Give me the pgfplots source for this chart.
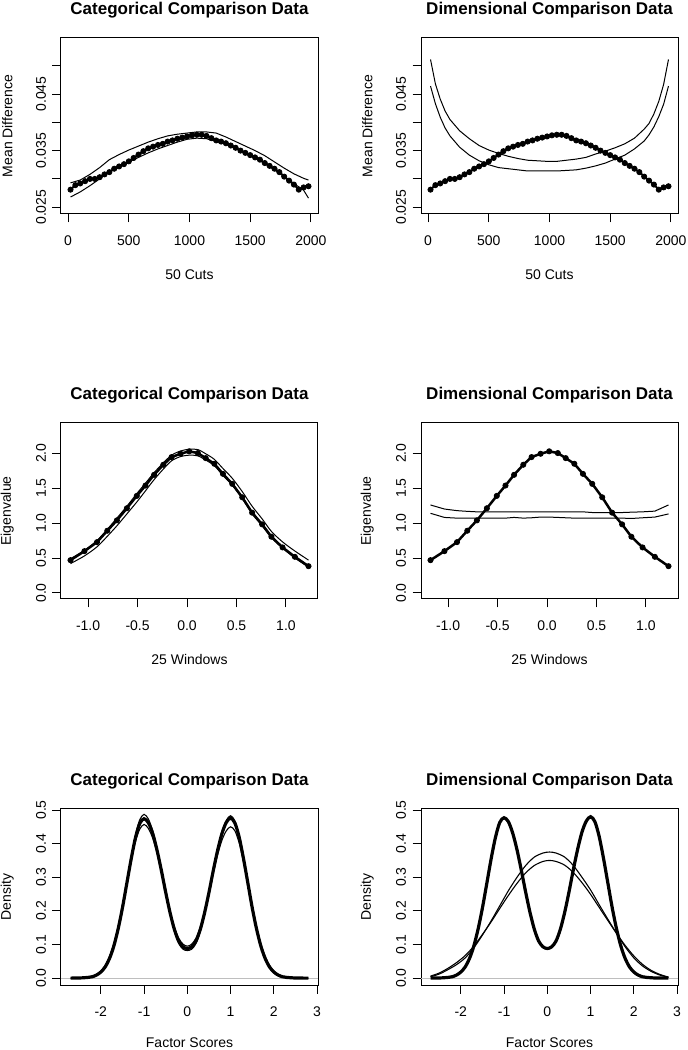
\documentclass[border=0pt]{standalone}
\usepackage{fontspec}
\setmainfont{Liberation Sans}
\setsansfont{Liberation Sans}
\usepackage{pgfplots}
\pgfplotsset{compat=1.18}
\definecolor{rgray}{RGB}{190,190,190}

\pgfplotsset{
  rplot/.style={
    scale only axis, width=257pt, height=176pt, anchor=south west,
    axis line style={line width=1pt},
    tick align=outside, major tick length=8.5pt,
    xtick pos=bottom, ytick pos=left,
    every tick/.style={black, line width=1pt},
    tick label style={font=\fontsize{14}{16}\selectfont},
    yticklabel style={rotate=90, anchor=south},
    xticklabel shift=10pt, yticklabel shift=3pt,
    scaled ticks=false,
    title style={font=\bfseries\fontsize{17}{20}\selectfont, at={(axis description cs:0.5,1.168)}, anchor=center, yshift=-8pt},
    xlabel style={font=\fontsize{14}{16}\selectfont, at={(axis description cs:0.5,-0.344)}, anchor=center},
    ylabel style={font=\fontsize{14}{16}\selectfont, at={(axis description cs:-0.209,0.5)}, anchor=center},
  },
  row1/.style={rplot, xmin=-58.4, xmax=2058.4, ymin=0.0238, ymax=0.0549,
    xtick={0,500,1000,1500,2000}, xticklabels={0,500,1000,1500,2000},
    ytick={0.025,0.03,0.035,0.04,0.045,0.05}, yticklabels={0.025,{},0.035,{},0.045,{}},
    xlabel={50 Cuts}, ylabel={Mean Difference}},
  row2/.style={rplot, xmin=-1.274, xmax=1.324, ymin=-0.086, ymax=2.43,
    xtick={-1,-0.5,0,0.5,1}, xticklabels={-1.0,-0.5,0.0,0.5,1.0},
    ytick={0,0.5,1,1.5,2}, yticklabels={0.0,0.5,1.0,1.5,2.0},
    xlabel={25 Windows}, ylabel={Eigenvalue}},
  row3/.style={rplot, xmin=-2.92, xmax=3.02, ymin=-0.0205, ymax=0.503,
    xtick={-2,-1,0,1,2,3}, xticklabels={-2,-1,0,1,2,3},
    ytick={0,0.1,0.2,0.3,0.4,0.5}, yticklabels={0.0,0.1,0.2,0.3,0.4,0.5},
    xlabel={Factor Scores}, ylabel={Density},
    xlabel style={at={(axis description cs:0.5,-0.33)}}},
  datastyle/.style={black, line width=2pt, mark=*, mark size=2.6pt, mark options={solid, line width=0.8pt}},
  bandstyle/.style={black, line width=1pt, no marks},
  thickden/.style={black, line width=3.2pt, no marks, smooth},
  thinden/.style={black, line width=1.1pt, no marks, smooth},
}

\begin{document}
\begin{tikzpicture}
\path[use as bounding box] (0pt,0pt) rectangle (688pt,1050pt);

% ---------------- Row 1 ----------------
\begin{axis}[row1, at={(61pt,836pt)}, title={Categorical Comparison Data}]
\addplot[bandstyle] coordinates {(20,0.0293)(100,0.0298)(180,0.0308)(260,0.0320)(340,0.0334)(420,0.0343)(500,0.0351)(580,0.0358)(660,0.0365)(740,0.0371)(820,0.0376)(900,0.0379)(980,0.0381)(1060,0.0383)(1140,0.0383)(1220,0.0381)(1300,0.0374)(1380,0.0366)(1460,0.0358)(1540,0.0350)(1620,0.0341)(1700,0.0330)(1780,0.0319)(1860,0.0309)(1940,0.0301)(1980,0.0298)};
\addplot[bandstyle] coordinates {(20,0.0268)(100,0.0277)(180,0.0288)(260,0.0300)(340,0.0313)(420,0.0322)(500,0.0330)(580,0.0338)(660,0.0346)(740,0.0353)(820,0.0359)(900,0.0365)(980,0.0370)(1060,0.0372)(1140,0.0371)(1220,0.0366)(1300,0.0361)(1380,0.0354)(1460,0.0345)(1540,0.0337)(1620,0.0327)(1700,0.0316)(1780,0.0304)(1860,0.0292)(1940,0.0280)(1980,0.0266)};
\addplot[datastyle] coordinates {(20,0.0281)(60,0.0289)(100,0.0292)(140,0.0296)(180,0.0300)(220,0.0300)(260,0.0303)(300,0.0308)(340,0.0312)(380,0.0318)(420,0.0322)(460,0.0326)(500,0.0331)(540,0.0337)(580,0.0343)(620,0.0349)(660,0.0354)(700,0.0357)(740,0.0360)(780,0.0362)(820,0.0366)(860,0.0368)(900,0.0371)(940,0.0373)(980,0.0375)(1020,0.0377)(1060,0.0378)(1100,0.0378)(1140,0.0376)(1180,0.0372)(1220,0.0368)(1260,0.0366)(1300,0.0363)(1340,0.0359)(1380,0.0355)(1420,0.0350)(1460,0.0346)(1500,0.0342)(1540,0.0338)(1580,0.0334)(1620,0.0328)(1660,0.0323)(1700,0.0318)(1740,0.0312)(1780,0.0304)(1820,0.0297)(1860,0.0290)(1900,0.0281)(1940,0.0285)(1980,0.0287)};
\end{axis}

\begin{axis}[row1, at={(421pt,836pt)}, title={Dimensional Comparison Data}]
\addplot[bandstyle] coordinates {(20,0.0511)(60,0.0468)(100,0.0441)(140,0.0420)(180,0.0405)(260,0.0385)(340,0.0371)(420,0.0359)(500,0.0351)(580,0.0345)(660,0.0340)(740,0.0336)(820,0.0333)(900,0.0332)(980,0.0331)(1060,0.0331)(1140,0.0333)(1220,0.0335)(1300,0.0338)(1380,0.0344)(1460,0.0349)(1540,0.0355)(1620,0.0362)(1700,0.0372)(1780,0.0388)(1820,0.0398)(1860,0.0415)(1900,0.0437)(1940,0.0467)(1980,0.0511)};
\addplot[bandstyle] coordinates {(20,0.0464)(60,0.0433)(100,0.0409)(140,0.0390)(180,0.0376)(260,0.0356)(340,0.0342)(420,0.0332)(500,0.0325)(580,0.0320)(660,0.0318)(740,0.0316)(820,0.0314)(900,0.0314)(980,0.0314)(1060,0.0314)(1140,0.0315)(1220,0.0316)(1300,0.0319)(1380,0.0323)(1460,0.0328)(1540,0.0335)(1620,0.0342)(1700,0.0353)(1780,0.0367)(1820,0.0378)(1860,0.0392)(1900,0.0410)(1940,0.0432)(1980,0.0464)};
\addplot[datastyle] coordinates {(20,0.0281)(60,0.0289)(100,0.0292)(140,0.0296)(180,0.0300)(220,0.0300)(260,0.0303)(300,0.0308)(340,0.0312)(380,0.0318)(420,0.0322)(460,0.0326)(500,0.0331)(540,0.0337)(580,0.0343)(620,0.0349)(660,0.0354)(700,0.0357)(740,0.0360)(780,0.0362)(820,0.0366)(860,0.0368)(900,0.0371)(940,0.0373)(980,0.0375)(1020,0.0377)(1060,0.0378)(1100,0.0378)(1140,0.0376)(1180,0.0372)(1220,0.0368)(1260,0.0366)(1300,0.0363)(1340,0.0359)(1380,0.0355)(1420,0.0350)(1460,0.0346)(1500,0.0342)(1540,0.0338)(1580,0.0334)(1620,0.0328)(1660,0.0323)(1700,0.0318)(1740,0.0312)(1780,0.0304)(1820,0.0297)(1860,0.0290)(1900,0.0281)(1940,0.0285)(1980,0.0287)};
\end{axis}

% ---------------- Row 2 ----------------
\begin{axis}[row2, at={(61pt,451pt)}, title={Categorical Comparison Data}]
\addplot[bandstyle, smooth] coordinates {(-1.178,0.49)(-1.037,0.61)(-0.910,0.75)(-0.806,0.91)(-0.709,1.07)(-0.608,1.24)(-0.508,1.42)(-0.420,1.57)(-0.333,1.72)(-0.240,1.86)(-0.156,1.97)(-0.065,2.03)(0.022,2.055)(0.109,2.05)(0.189,1.99)(0.276,1.91)(0.363,1.78)(0.457,1.64)(0.558,1.45)(0.658,1.24)(0.759,1.06)(0.853,0.88)(0.966,0.73)(1.090,0.60)(1.228,0.47)};
\addplot[bandstyle, smooth] coordinates {(-1.178,0.42)(-1.037,0.53)(-0.910,0.66)(-0.806,0.81)(-0.709,0.96)(-0.608,1.13)(-0.508,1.30)(-0.420,1.46)(-0.333,1.62)(-0.240,1.77)(-0.156,1.89)(-0.065,1.95)(0.022,1.97)(0.109,1.96)(0.189,1.90)(0.276,1.82)(0.363,1.68)(0.457,1.54)(0.558,1.35)(0.658,1.13)(0.759,0.96)(0.853,0.79)(0.966,0.64)(1.090,0.50)(1.228,0.37)};
\addplot[datastyle, line width=2.5pt] coordinates {(-1.178,0.469)(-1.037,0.598)(-0.910,0.727)(-0.806,0.890)(-0.709,1.038)(-0.608,1.211)(-0.508,1.388)(-0.420,1.536)(-0.333,1.689)(-0.240,1.833)(-0.156,1.943)(-0.065,1.990)(0.022,2.025)(0.109,2.000)(0.189,1.928)(0.276,1.847)(0.363,1.703)(0.457,1.560)(0.558,1.368)(0.658,1.148)(0.759,0.981)(0.853,0.804)(0.966,0.651)(1.090,0.517)(1.228,0.383)};
\end{axis}

\begin{axis}[row2, at={(421pt,451pt)}, title={Dimensional Comparison Data}]
\addplot[bandstyle] coordinates {(-1.178,1.258)(-1.037,1.20)(-0.910,1.177)(-0.806,1.167)(-0.709,1.16)(-0.608,1.16)(-0.508,1.16)(-0.420,1.16)(-0.333,1.16)(-0.240,1.16)(-0.156,1.16)(-0.065,1.16)(0.022,1.16)(0.109,1.16)(0.189,1.16)(0.276,1.16)(0.363,1.16)(0.457,1.15)(0.558,1.15)(0.658,1.15)(0.759,1.15)(0.853,1.155)(0.966,1.16)(1.090,1.17)(1.228,1.258)};
\addplot[bandstyle] coordinates {(-1.178,1.139)(-1.037,1.08)(-0.910,1.07)(-0.806,1.07)(-0.709,1.07)(-0.608,1.07)(-0.508,1.07)(-0.420,1.07)(-0.333,1.08)(-0.240,1.07)(-0.156,1.075)(-0.065,1.085)(0.022,1.085)(0.109,1.08)(0.189,1.075)(0.276,1.07)(0.363,1.07)(0.457,1.07)(0.558,1.07)(0.658,1.07)(0.759,1.07)(0.853,1.065)(0.966,1.075)(1.090,1.085)(1.228,1.13)};
\addplot[datastyle, line width=2.5pt] coordinates {(-1.178,0.469)(-1.037,0.598)(-0.910,0.727)(-0.806,0.890)(-0.709,1.038)(-0.608,1.211)(-0.508,1.388)(-0.420,1.536)(-0.333,1.689)(-0.240,1.833)(-0.156,1.943)(-0.065,1.990)(0.022,2.025)(0.109,2.000)(0.189,1.928)(0.276,1.847)(0.363,1.703)(0.457,1.560)(0.558,1.368)(0.658,1.148)(0.759,0.981)(0.853,0.804)(0.966,0.651)(1.090,0.517)(1.228,0.383)};
\end{axis}

% ---------------- Row 3 ----------------
\begin{axis}[row3, at={(61pt,65pt)}, title={Categorical Comparison Data}]
\addplot[rgray, line width=1.2pt] coordinates {(-2.92,0)(3.02,0)};
\addplot[thickden] coordinates {(-2.7,0)(-2.6,0.0001)(-2.5,0.0003)(-2.4,0.001)(-2.3,0.002)(-2.2,0.004)(-2.1,0.009)(-2.0,0.018)(-1.9,0.033)(-1.8,0.058)(-1.7,0.095)(-1.6,0.146)(-1.5,0.209)(-1.4,0.281)(-1.3,0.353)(-1.2,0.417)(-1.1,0.460)(-1.0,0.474)(-0.9,0.462)(-0.8,0.430)(-0.7,0.380)(-0.6,0.320)(-0.5,0.255)(-0.4,0.195)(-0.3,0.145)(-0.2,0.110)(-0.1,0.093)(0,0.088)(0.1,0.093)(0.2,0.110)(0.3,0.145)(0.4,0.195)(0.5,0.255)(0.6,0.320)(0.7,0.380)(0.8,0.430)(0.9,0.463)(1.0,0.476)(1.1,0.461)(1.2,0.418)(1.3,0.354)(1.4,0.282)(1.5,0.209)(1.6,0.146)(1.7,0.095)(1.8,0.058)(1.9,0.033)(2.0,0.018)(2.1,0.009)(2.2,0.004)(2.3,0.002)(2.4,0.001)(2.5,0.0003)(2.6,0.0001)(2.7,0)(2.8,0)};
\addplot[thinden] coordinates {(-2.7,0)(-2.6,0.0001)(-2.5,0.0002)(-2.4,0.0006)(-2.3,0.0015)(-2.2,0.0035)(-2.1,0.008)(-2.0,0.016)(-1.9,0.031)(-1.8,0.055)(-1.7,0.091)(-1.6,0.142)(-1.5,0.207)(-1.4,0.282)(-1.3,0.358)(-1.2,0.425)(-1.1,0.471)(-1.0,0.487)(-0.9,0.473)(-0.8,0.438)(-0.7,0.386)(-0.6,0.323)(-0.5,0.256)(-0.4,0.193)(-0.3,0.140)(-0.2,0.103)(-0.1,0.086)(0,0.082)(0.1,0.086)(0.2,0.103)(0.3,0.140)(0.4,0.193)(0.5,0.256)(0.6,0.322)(0.7,0.384)(0.8,0.435)(0.9,0.469)(1.0,0.483)(1.1,0.467)(1.2,0.422)(1.3,0.356)(1.4,0.281)(1.5,0.207)(1.6,0.142)(1.7,0.091)(1.8,0.055)(1.9,0.031)(2.0,0.016)(2.1,0.008)(2.2,0.0035)(2.3,0.0015)(2.4,0.0006)(2.5,0.0002)(2.6,0.0001)(2.7,0)(2.8,0)};
\addplot[thinden] coordinates {(-2.7,0)(-2.6,0.0001)(-2.5,0.0004)(-2.4,0.001)(-2.3,0.0022)(-2.2,0.005)(-2.1,0.011)(-2.0,0.021)(-1.9,0.038)(-1.8,0.064)(-1.7,0.102)(-1.6,0.152)(-1.5,0.213)(-1.4,0.281)(-1.3,0.348)(-1.2,0.405)(-1.1,0.443)(-1.0,0.457)(-0.9,0.445)(-0.8,0.416)(-0.7,0.372)(-0.6,0.317)(-0.5,0.257)(-0.4,0.200)(-0.3,0.153)(-0.2,0.119)(-0.1,0.101)(0,0.095)(0.1,0.101)(0.2,0.119)(0.3,0.153)(0.4,0.199)(0.5,0.255)(0.6,0.314)(0.7,0.367)(0.8,0.410)(0.9,0.438)(1.0,0.450)(1.1,0.438)(1.2,0.401)(1.3,0.345)(1.4,0.279)(1.5,0.212)(1.6,0.152)(1.7,0.102)(1.8,0.064)(1.9,0.038)(2.0,0.021)(2.1,0.011)(2.2,0.005)(2.3,0.0022)(2.4,0.001)(2.5,0.0004)(2.6,0.0001)(2.7,0)(2.8,0)};
\end{axis}

\begin{axis}[row3, at={(421pt,65pt)}, title={Dimensional Comparison Data}]
\addplot[rgray, line width=1.2pt] coordinates {(-2.92,0)(3.02,0)};
\addplot[thinden] coordinates {(-2.7,0.004)(-2.5,0.012)(-2.3,0.025)(-2.1,0.040)(-1.9,0.060)(-1.7,0.090)(-1.5,0.128)(-1.3,0.170)(-1.1,0.215)(-0.9,0.260)(-0.7,0.300)(-0.5,0.335)(-0.3,0.360)(-0.1,0.372)(0.05,0.375)(0.2,0.372)(0.4,0.360)(0.6,0.335)(0.8,0.300)(1.0,0.262)(1.2,0.218)(1.4,0.175)(1.6,0.133)(1.8,0.093)(2.0,0.060)(2.2,0.036)(2.4,0.020)(2.6,0.009)(2.8,0.002)};
\addplot[thinden] coordinates {(-2.7,0.006)(-2.5,0.015)(-2.3,0.029)(-2.1,0.046)(-1.9,0.067)(-1.7,0.095)(-1.5,0.130)(-1.3,0.167)(-1.1,0.207)(-0.9,0.246)(-0.7,0.282)(-0.5,0.313)(-0.3,0.335)(-0.1,0.347)(0.05,0.350)(0.2,0.347)(0.4,0.336)(0.6,0.314)(0.8,0.284)(1.0,0.249)(1.2,0.210)(1.4,0.171)(1.6,0.133)(1.8,0.097)(2.0,0.066)(2.2,0.041)(2.4,0.023)(2.6,0.011)(2.8,0.003)};
\addplot[thickden] coordinates {(-2.7,0)(-2.6,0.0001)(-2.5,0.0003)(-2.4,0.001)(-2.3,0.002)(-2.2,0.004)(-2.1,0.009)(-2.0,0.018)(-1.9,0.033)(-1.8,0.058)(-1.7,0.095)(-1.6,0.146)(-1.5,0.209)(-1.4,0.281)(-1.3,0.354)(-1.2,0.418)(-1.1,0.463)(-1.0,0.477)(-0.9,0.465)(-0.8,0.431)(-0.7,0.381)(-0.6,0.320)(-0.5,0.255)(-0.4,0.195)(-0.3,0.145)(-0.2,0.110)(-0.1,0.093)(0,0.088)(0.1,0.093)(0.2,0.110)(0.3,0.145)(0.4,0.195)(0.5,0.256)(0.6,0.322)(0.7,0.383)(0.8,0.434)(0.9,0.467)(1.0,0.480)(1.1,0.465)(1.2,0.420)(1.3,0.355)(1.4,0.282)(1.5,0.209)(1.6,0.146)(1.7,0.095)(1.8,0.058)(1.9,0.033)(2.0,0.018)(2.1,0.009)(2.2,0.004)(2.3,0.002)(2.4,0.001)(2.5,0.0003)(2.6,0.0001)(2.7,0)(2.8,0)};
\end{axis}
\end{tikzpicture}
\end{document}
